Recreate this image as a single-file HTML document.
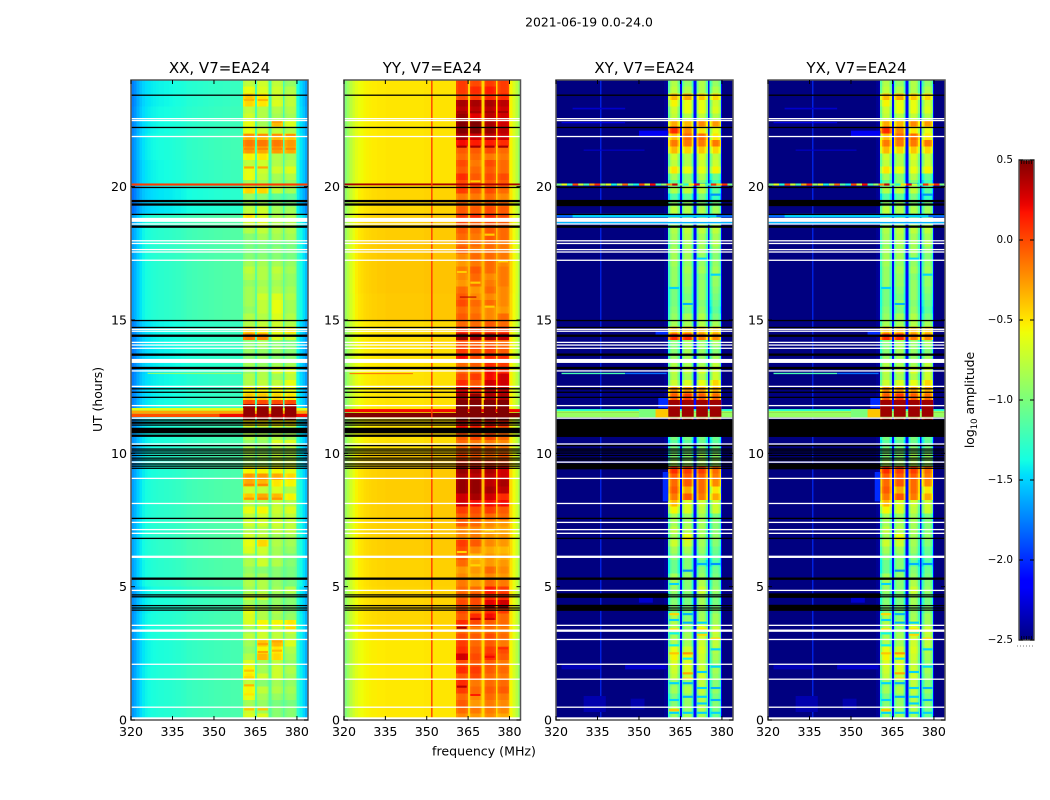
<!DOCTYPE html>
<html lang="en">
<head>
<meta charset="utf-8">
<title>2021-06-19 spectrogram</title>
<style>
html,body{margin:0;padding:0;background:#fff;width:1050px;height:800px;overflow:hidden}
#figure{position:relative;width:1050px;height:800px;background:#fff}
canvas{position:absolute;display:block;image-rendering:pixelated}
svg{position:absolute;left:0;top:0}
text{font-family:"DejaVu Sans","Liberation Sans",sans-serif;fill:#000}
</style>
</head>
<body>
<div id="figure">
<canvas id="heat-xx" width="256" height="96" style="left:131px;top:80px;width:177px;height:640px"></canvas>
<canvas id="heat-yy" width="256" height="96" style="left:344px;top:80px;width:176.5px;height:640px"></canvas>
<canvas id="heat-xy" width="256" height="96" style="left:556px;top:80px;width:177px;height:640px"></canvas>
<canvas id="heat-yx" width="256" height="96" style="left:768px;top:80px;width:177px;height:640px"></canvas>
<svg id="overlay" width="1050" height="800" viewBox="0 0 1050 800">
<defs><linearGradient id="jet-gradient" x1="0" y1="1" x2="0" y2="0"></linearGradient></defs>
<text x="589" y="26.5" font-size="12.4" text-anchor="middle">2021-06-19 0.0-24.0</text>
<text x="484" y="755.5" font-size="12.6" text-anchor="middle">frequency (MHz)</text>
<text x="0" y="0" font-size="12.4" text-anchor="middle" transform="translate(102,399.5) rotate(-90)">UT (hours)</text>
<text x="0" y="0" font-size="12.4" text-anchor="middle" transform="translate(974,400) rotate(-90)">log<tspan font-size="8.5" dy="3">10</tspan><tspan dy="-3"> amplitude</tspan></text>
</svg>
</div>
<script>
// Axis tick values
const xTicks = [320, 335, 350, 365, 380];
const yTicks = [0, 5, 10, 15, 20];
const colorTicks = [0.5, 0, -0.5, -1, -1.5, -2, -2.5];

// Receiver band limits (MHz)
const bandStarts = [360.6, 365.5, 370.7, 375.6];
const bandEnds = [364.8, 369.8, 374.9, 379.8];

// Band-edge rolloff across each band (log10 amplitude offset)
const shapeAuto = [-0.06, -0.02, 0, 0, 0, 0, -0.02, -0.06];
const shapeCross = [-0.35, -0.12, 0, 0, 0, 0, -0.12, -0.35];

// Background spectrum, one value per MHz from 320 to 383
const bgXX = [-1.65,-1.6,-1.52,-1.45,-1.4,-1.37,-1.35,-1.33,-1.32,-1.31,-1.3,-1.3,-1.29,-1.29,-1.28,-1.27,-1.26,-1.26,-1.25,-1.24,-1.22,-1.22,-1.21,-1.21,-1.2,-1.2,-1.19,-1.19,-1.18,-1.18,-1.17,-1.17,-1.17,-1.16,-1.16,-1.16,-1.15,-1.15,-1.15,-1.15,-1.15,-1.1,-1.1,-1.1,-1.1,-1.1,-1.1,-1.1,-1.1,-1.1,-1.1,-1.1,-1.1,-1.1,-1.1,-1.1,-1.1,-1.1,-1.1,-1.1,-1.28,-1.38,-1.46,-1.56];
const bgYY = [-0.92,-0.82,-0.72,-0.64,-0.58,-0.54,-0.52,-0.5,-0.49,-0.48,-0.47,-0.47,-0.46,-0.46,-0.46,-0.45,-0.45,-0.45,-0.45,-0.45,-0.45,-0.45,-0.45,-0.45,-0.45,-0.45,-0.45,-0.45,-0.45,-0.44,-0.44,-0.44,-0.44,-0.44,-0.44,-0.44,-0.44,-0.44,-0.44,-0.44,-0.44,-0.4,-0.4,-0.4,-0.4,-0.4,-0.4,-0.4,-0.4,-0.4,-0.4,-0.4,-0.4,-0.4,-0.4,-0.4,-0.4,-0.4,-0.4,-0.4,-0.5,-0.62,-0.72,-0.85];
const bgCross = [-2.5,-2.5,-2.5,-2.5,-2.5,-2.5,-2.5,-2.5,-2.5,-2.5,-2.5,-2.5,-2.5,-2.5,-2.5,-2.5,-2.5,-2.5,-2.5,-2.5,-2.5,-2.5,-2.5,-2.5,-2.5,-2.5,-2.5,-2.5,-2.5,-2.5,-2.5,-2.5,-2.5,-2.5,-2.5,-2.5,-2.5,-2.5,-2.5,-2.45,-2.4,-2.1,-2.1,-2.1,-2.1,-2.1,-2.1,-2.1,-2.1,-2.1,-2.1,-2.1,-2.1,-2.1,-2.1,-2.1,-2.1,-2.1,-2.1,-2.1,-2.5,-2.5,-2.5,-2.5];

// Background level change per hour of UT
const hourOffsetXX = [-0.03,-0.03,-0.05,-0.03,-0.05,0,0.02,0,0,-0.03,-0.05,-0.08,-0.1,-0.12,-0.1,0,0,0,0,-0.15,-0.08,-0.06,-0.08,-0.1];
const hourOffsetYY = [-0.06,-0.06,-0.06,0,0,0.01,0.03,0.03,0.03,0.03,-0.03,-0.04,-0.04,-0.04,-0.02,0.04,0.05,0.05,0.03,0,-0.05,-0.05,-0.05,-0.05];
const hourOffsetCross = [0,0,0,0,0,0,0,0,0,0,0,0,0,0,0,0,0,0,0,0,0,0,0,0];

// Band levels in quarter-hour rows, four bands per row, UT ascending
const bandsXX = [
[-.65,-.65,-.95,-.95],[-.7,-.85,-.95,-.95],[-.85,-.9,-1,-1],[-.6,-.85,-.9,-.9],
[-.55,-.75,-.8,-.85],[-.75,-.95,-.85,-.9],[-.5,-.7,-.7,-.85],[-.55,-.85,-.7,-.8],
[-.65,-.85,-.75,-.9],[-.8,-.35,-.45,-.85],[-.9,-.55,-.5,-.8],[-.85,-.4,-.35,-.65],
[-.75,-.7,-.75,-.8],[-.85,-.7,-.75,-.7],[-.65,-.55,-.55,-.5],[-.65,-.8,-.85,-.9],
[-.6,-.8,-.8,-.95],[-.85,-.9,-.9,-.95],[-.7,-.7,-.9,-.95],[-.85,-.8,-.85,-.8],
[-.8,-.8,-.9,-1],[-.85,-.85,-.95,-1],[-.9,-.95,-.95,-1],[-.8,-.7,-.8,-.95],
[-.85,-.75,-.85,-1],[-.65,-.7,-.85,-.9],[-.6,-.45,-.8,-.85],[-.7,-.75,-.85,-.85],
[-.8,-.8,-.75,-.75],[-.7,-.7,-.7,-.75],[-.75,-.7,-.75,-.75],[-.6,-.55,-.7,-.65],
[-.8,-.85,-.75,-.8],[-.4,-.3,-.35,-.55],[-.7,-.75,-.65,-.8],[-.3,-.35,-.5,-.55],
[-.25,-.25,-.3,-.45],[-.55,-.55,-.55,-.6],[-.85,-.85,-.7,-.7],[-.85,-.85,-.75,-.8],
[-.8,-.9,-.8,-.8],[-.9,-.9,-.65,-.65],[-.8,-.85,-.8,-.85],[-.8,-.85,-.8,-.9],
[-.5,-.5,-.5,-.5],[.45,.45,.45,.45],[.45,.45,.45,.45],[0,0,0,0],
[-.4,-.4,-.45,-.5],[-.55,-.55,-.55,-.6],[-.8,-.75,-.75,-.6],[-.8,-.8,-.85,-.75],
[-.9,-.8,-.65,-.65],[-.85,-.9,-.85,-.85],[-.95,-.9,-.95,-.95],[-.9,-.9,-.9,-.95],
[-.95,-.85,-.95,-1],[-.15,-.2,-.65,-.7],[-.4,-.5,-.6,-.5],[-.8,-.75,-.7,-.8],
[-.8,-.8,-.65,-.8],[-.9,-.75,-.6,-.85],[-.85,-.75,-.6,-.85],[-.85,-.7,-.65,-.8],
[-.85,-.8,-.8,-.85],[-.9,-.85,-.85,-.9],[-.8,-.8,-.8,-.9],[-.75,-.8,-.75,-.85],
[-.85,-.85,-.85,-.9],[-.95,-.95,-.95,-1],[-1,-1,-.95,-1],[-1,-1,-1,-1],
[-.95,-.85,-.85,-.85],[-.8,-.75,-.8,-.8],[-.7,-.65,-.8,-.8],[-.5,-.65,-.8,-.8],
[-.75,-.7,-.85,-.85],[-.85,-.85,-.95,-1],[-.9,-.95,-1.1,-1.1],[-.45,-.45,-.75,-.85],
[-.85,-.85,-.9,-.9],[-.6,-.75,-.85,-.8],[-.6,-.7,-.7,-.65],[-.75,-.7,-.8,-.8],
[-.55,-.5,-.8,-.85],[-.25,-.3,-.25,-.3],[-.15,-.15,-.15,-.25],[-.3,-.35,-.35,-.4],
[-.6,-.7,-.75,-.8],[-.6,-.85,-.35,-.65],[-.7,-.8,-.85,-.85],[-.75,-.8,-.8,-.8],
[-.45,-.5,-.65,-.75],[-.4,-.5,-.7,-.75],[-.6,-.65,-.7,-.8],[-.75,-.7,-.75,-.9]
];
const bandsYY = [
[-.2,-.25,-.2,-.3],[-.1,-.15,-.15,-.2],[-.05,-.25,-.15,-.2],[-.1,-.2,-.1,-.15],
[.05,-.1,-.05,-.05],[.1,-.15,-.1,-.1],[-.05,0,-.1,-.15],[.1,.05,-.05,-.1],
[0,-.05,-.05,-.15],[.3,0,.1,-.05],[.1,-.05,.05,0],[.05,-.1,-.05,-.15],
[0,-.05,0,-.1],[-.1,-.15,-.1,-.15],[.1,0,-.05,-.1],[-.05,.1,.2,-.1],
[0,-.1,.1,.05],[0,0,.25,.3],[-.05,0,.1,.1],[-.1,-.1,.15,.05],
[-.15,-.25,-.1,-.15],[-.2,-.3,-.2,-.25],[-.25,-.25,-.1,-.2],[-.1,-.3,-.25,-.25],
[-.05,-.35,-.25,-.3],[0,-.2,-.3,-.35],[.05,-.05,-.2,-.25],[-.2,-.15,-.25,-.25],
[-.2,-.2,-.25,-.3],[-.05,-.1,-.2,-.25],[-.05,-.05,-.1,-.1],[.05,0,.05,-.05],
[.3,.2,.2,.2],[.3,.4,.3,.1],[.45,.45,.4,.35],[.45,.45,.35,.4],
[.4,.35,.35,.3],[.45,.4,.4,.3],[.1,.1,.05,0],[0,-.05,-.1,-.05],
[-.1,-.05,-.1,-.15],[-.1,-.15,-.15,-.2],[-.05,0,0,-.1],[.2,.1,.1,-.05],
[.2,.2,.2,.15],[.5,.5,.5,.5],[.5,.5,.5,.5],[.45,.4,.35,.4],
[.45,.45,.4,.4],[.3,.1,.4,.35],[.1,-.05,.3,.3],[0,.05,.2,.3],
[-.1,-.1,.2,.1],[-.1,-.05,.1,.05],[.2,0,.1,.1],[.05,0,.05,-.05],
[0,-.05,-.05,-.1],[.45,.4,.4,.35],[.1,.05,.05,.05],[-.1,-.1,-.05,-.1],
[-.05,-.1,-.2,-.1],[-.1,-.15,-.2,-.25],[0,-.1,-.1,-.2],[-.05,-.2,-.2,-.2],
[-.1,-.25,-.1,-.2],[-.25,-.1,-.15,-.15],[-.2,-.1,-.2,-.15],[-.15,-.05,-.1,-.15],
[-.25,-.15,-.1,-.2],[-.2,-.1,-.1,-.15],[-.05,-.15,-.1,-.15],[-.1,-.1,-.1,-.15],
[-.1,-.15,-.05,-.1],[-.05,-.1,-.05,-.1],[0,-.05,0,-.05],[.05,.1,.1,0],
[-.05,-.05,0,-.05],[-.1,-.1,-.05,-.1],[-.15,-.15,-.1,-.2],[.05,-.05,0,-.1],
[0,0,-.05,-.05],[.1,-.05,0,0],[-.05,-.1,-.05,-.1],[0,-.15,0,-.1],
[-.1,-.1,-.15,-.15],[-.05,-.05,0,-.1],[.2,.15,.15,.1],[.4,.3,.35,.3],
[.5,.5,.45,.35],[.5,.5,.4,.3],[.45,.25,.35,.3],[.35,.35,.35,.3],
[.4,.4,.4,.35],[0,.05,.1,.1],[.05,.1,.15,.05],[.05,0,.05,.05]
];
const bandsCross = [
[-.9,-.85,-.85,-1.05],[-.75,-.9,-.8,-1],[-.95,-.9,-.8,-.95],[-1,-.9,-.8,-1],
[-.85,-.8,-.75,-.9],[-.9,-.9,-.75,-.95],[-.75,-.75,-.7,-.9],[-.7,-.65,-.7,-.85],
[-.65,-.65,-.75,-.9],[-.55,-.55,-.7,-.85],[-.6,-.7,-.65,-.8],[-.8,-.85,-.7,-.75],
[-.85,-.85,-.7,-.75],[-.8,-.9,-.6,-.7],[-.8,-.85,-.75,-.85],[-.8,-.95,-.85,-.85],
[-.95,-1,-.9,-.95],[-.95,-1,-.85,-1],[-1,-1,-.85,-1],[-.9,-.95,-.7,-.9],
[-.85,-.95,-.8,-.95],[-.85,-.9,-.9,-1],[-1.05,-.95,-.95,-1.05],[-1.05,-.95,-1.1,-1.15],
[-.95,-.95,-1,-1.1],[-.85,-.85,-.9,-1.05],[-.7,-.7,-.85,-.95],[-.85,-.6,-.85,-.9],
[-.75,-.8,-.85,-.95],[-.85,-.85,-.85,-.95],[-.85,-.9,-.85,-1],[-.55,-.65,-.75,-.7],
[-.35,-.65,-.7,-.7],[-.15,-.05,-.15,-.3],[-.05,-.3,-.1,-.5],[-.1,-.05,-.1,-.2],
[-.05,-.05,-.05,-.15],[.1,.05,.05,-.1],[-.8,-.85,-.8,-.85],[-.95,-.95,-.85,-.9],
[-1,-1,-.95,-1],[-1.1,-1.1,-1.05,-1.1],[-1,-1,-1,-1.05],[-.8,-.9,-.7,-.9],
[-.7,-.8,-.6,-.7],[.4,.4,.4,.4],[.4,.4,.4,.4],[.1,.1,.1,.1],
[-.05,.05,-.05,-.1],[-.2,-.25,-.25,-.3],[-.7,-.65,-.6,-.45],[-.8,-.85,-.8,-.7],
[-.75,-.75,-.65,-.7],[-.8,-.85,-.85,-.75],[-.9,-.85,-.9,-.85],[-.95,-.85,-.9,-.95],
[-.95,-.85,-.9,-.85],[.1,.1,-.15,-.2],[-.35,-.35,-.35,-.4],[-.85,-.85,-.8,-.85],
[-.9,-.85,-.8,-1],[-.95,-1,-.9,-1.1],[-1,-.9,-.95,-1.05],[-1,-1,-.9,-1],
[-1,-.95,-.9,-.95],[-.9,-.9,-.9,-.9],[-.9,-.9,-.95,-.9],[-.9,-.85,-.85,-.85],
[-.85,-.9,-.9,-.9],[-.85,-.85,-.9,-.95],[-.85,-.85,-.85,-.9],[-.9,-.85,-.85,-.8],
[-.85,-.8,-.85,-.85],[-.8,-.75,-.75,-.75],[-.9,-.9,-.85,-.8],[-.7,-.75,-.8,-.75],
[-.75,-.8,-.8,-.85],[-.9,-.9,-.95,-1],[-1.15,-1.1,-1,-1.25],[-.8,-.75,-.75,-1.1],
[-1.05,-.9,-.95,-1.2],[-.85,-.95,-.8,-1.05],[-.5,-.6,-.6,-.55],[-.75,-.8,-.7,-.7],
[-.7,-.8,-.65,-.75],[-.35,-.45,-.4,-.45],[-.15,-.15,-.15,-.15],[-.35,-.1,-.1,-.5],
[.1,-.2,-.5,-.6],[-.3,-.35,-.2,-.25],[-.75,-.8,-.75,-.8],[-.7,-.6,-.6,-.65],
[-.55,-.6,-.6,-.7],[-.35,-.3,-.4,-.45],[-.75,-.8,-.8,-.8],[-.8,-.9,-.8,-.9]
];

// Thin lines inside single bands: hour, band index, log10 amplitude
const bandLinesXX = [[20.72,0,-.3],[20.72,1,-.3],[21.42,0,-.2],[21.42,1,-.2],[21.42,2,-.2],[21.42,3,-.2],[21.93,0,-.2],[21.93,1,-.2],[21.93,2,-.2],[21.93,3,-.2],[22.44,2,-.25],[23.25,0,-.35],[23.25,1,-.35],[3.45,3,-.45],[2.95,2,-.3],[2.85,1,-.3],[2.6,2,-.35],[2.55,1,-.3],[1.85,0,-.4],[1.6,0,-.45],[1.3,0,-.35],[.96,0,-.5],[.4,0,-.4],[.4,1,-.4],[8.3,0,-.25],[8.3,1,-.2],[8.3,2,-.25],[8.82,0,-.2],[8.82,1,-.2]];
const bandLinesYY = [[1.25,0,.35],[3.46,0,.4],[3.79,1,.3],[3.79,2,.3],[4.25,2,.45],[4.25,3,.45],[2.69,3,.1],[2.37,2,.2],[.94,1,.15],[21.5,0,.4],[21.5,1,.4],[21.5,2,.4],[21.5,3,.4],[22.8,0,.4],[22.8,1,.4],[22.8,2,.4],[22.8,3,.4],[6.3,0,-.45],[5.8,1,-.45],[7.1,2,-.45],[16.4,1,-.42],[15.5,2,-.42],[17.2,3,-.42],[16.8,0,-.42],[18.2,2,-.42],[20.2,1,-.42]];
const bandLinesCross = [[3.97,1,-1.6],[3.75,0,-1.5],[3.65,1,-1.6],[3.65,2,-1.5],[3.25,0,-1.4],[3.25,2,-1.4],[2.8,0,-1.4],[2.65,3,-1.5],[2.3,1,-1.4],[2,3,-1.5],[1.8,2,-1.5],[1.38,0,-1.5],[1.38,1,-1.6],[1.2,2,-1.5],[1.2,3,-1.6],[.87,1,-1.6],[.87,2,-1.5],[.75,0,-1.5],[.75,3,-1.6],[.62,2,-1.5],[.27,0,-1.5],[.27,1,-1.5],[.27,2,-1.5],[.27,3,-1.5],[3.97,0,-.45],[3.4,0,-.5],[3.4,2,-.5],[3.2,2,-.45],[3.05,3,-.45],[2.5,0,-.4],[2.5,1,-.25],[1.75,1,-.3],[1.55,1,-.45],[.37,0,-.4],[6.8,1,-.45],[5.1,0,-1.5],[5.6,1,-1.7],[5.85,2,-1.6],[5.85,3,-1.7],[15.6,1,-1.6],[16.2,0,-1.5],[16.7,3,-1.5],[17.3,2,-1.5],[19.7,3,-1.7],[20.1,2,-1.6]];

// Narrow features: start hour, end hour, start MHz, end MHz, log10 amplitude
const stripesXX = [
[11.6,11.7,320,384,-.62],[11.48,11.6,320,384,-.3],[11.36,11.48,320,384,-.02],[11.36,11.48,352,384,.2],
[20.04,20.12,320,384,.05],[12.98,13.02,326,360,-.9],
[11.37,11.85,360.6,364.8,.45],[11.37,11.85,365.5,369.8,.45],[11.37,11.85,370.7,374.9,.45],[11.37,11.85,375.6,379.8,.45]
];
const stripesYY = [
[11.55,11.66,320,384,.2],[11.35,11.52,320,384,.5],[20.05,20.12,320,384,.4],[12.97,13.01,322,345,-.15],
[.1,24,351.6,352.1,.05],[15.84,15.88,362,368,.35],
[11.37,12,360.6,364.8,.5],[11.37,12,365.5,369.8,.5],[11.37,12,370.7,374.9,.5],[11.37,12,375.6,379.8,.5]
];
const stripesCross = [
[.1,24,336,336.4,-2],[11.56,11.66,320,384,-1.3],[11.52,11.58,320,384,-.8],[11.35,11.52,320,384,-.9],[11.35,11.66,350,356,-1],[11.35,11.66,356,360.6,-.4],
[18.85,18.98,320,384,-1.8],[18.62,18.68,320,384,-1.6],[18.85,18.98,326,378,-1.5],
[12.97,13.02,322,345,-1.2],[12.97,13.02,345,360,-1.8],
[1.9,2.1,322,336,-2.35],[1.9,2.1,345,360,-2.3],[.3,.9,330,338,-2.38],[.4,.8,347,352,-2.38],[4.4,4.7,350,355,-2.3],
[8.2,9.3,358.6,360.6,-2],[14.4,14.6,356,360.6,-2],[11.7,12.1,357,360.6,-2],[21.9,22.1,350,360.6,-2.2],
[22.38,22.42,322,345,-2.2],[22.9,22.96,326,345,-2.3],[21.35,21.39,330,352,-2.3],
[11.37,12,360.6,364.8,.42],[11.37,12,365.5,369.8,.42],[11.37,12,370.7,374.9,.42],[11.37,12,375.6,379.8,.42]
];

// Strongly varying interference row seen in the cross-hand panels at 20.08 UT
const noiseRowValues = [-1,-.6,-1.3,0,-.7,-1.2,-.3,.1,-.9,-.6,-1.4,-.8,-.1,-1.1,-1.4,0,-.7,.2,-1.2,-.9,-.2,.3,-1,-1.3,-.5,.2,-.7,-1.2,.1,-.4,.1,-1];

// Flagged rows, in hours of UT
const blackThin = [23.43,22.22,19.97,18.96,14.98,14.72,12.42,12.29,12.1,11.25,11.06,10.29,10.16,10.09,10.01,9.92,9.82,9.75,9.6,9.52,9.44,7.56,6.81,4.69,4.62,4.29,4.2,4.12];
const blackThick = [19.46,19.33,18.5,14.41,13.7,13.2,11.15,10.66,5.3];
const whiteThin = [22.55,22.48,21.88,18.6,17.97,17.87,17.64,17.55,17.24,14.65,14.58,14.16,14.06,13.94,13.09,12.51,11.79,11.32,10.35,9.67,9.06,8.12,7.41,7.14,7,4.86,3.55,3.02,2.09,1.53,.48];
const whiteThick = [6.12,3.35];
const blackBlocks = [[10.75,10.96]];
const whiteBlocks = [[18.68,18.83],[13.39,13.54],[0,.1]];
const crossBlackBlocks = [[10.62,11.25]];
const crossSideBlocks = [[19.27,19.5],[9.4,9.6],[4.1,4.32],[4.58,4.75]];

// Panel definitions
const panelNames = ['xx', 'yy', 'xy', 'yx'];
const panelTitles = ['XX, V7=EA24', 'YY, V7=EA24', 'XY, V7=EA24', 'YX, V7=EA24'];
const panelLeft = [131, 344, 556, 768];
const panelWidth = [177, 176.5, 177, 177];
const panelBg = [bgXX, bgYY, bgCross, bgCross];
const panelBands = [bandsXX, bandsYY, bandsCross, bandsCross];
const panelShape = [shapeAuto, shapeAuto, shapeCross, shapeCross];
const panelHour = [hourOffsetXX, hourOffsetYY, hourOffsetCross, hourOffsetCross];
const panelStripes = [stripesXX, stripesYY, stripesCross, stripesCross];
const panelLines = [bandLinesXX, bandLinesYY, bandLinesCross, bandLinesCross];

const plotTop = 80, plotBottom = 720, freqMin = 320, freqMax = 384, hourMax = 24, levelMin = -2.5, levelMax = 0.5;
const cbLeft = 1019, cbRight = 1034, cbTop = 160, cbBottom = 640;
const SVG_NS = 'http://www.w3.org/2000/svg';
const svg = document.getElementById('overlay');

function yScale(hour) { return plotBottom - (hour / hourMax) * (plotBottom - plotTop); }
function ramp(n, pts) {
  for (let i = 1; i < pts.length; i++) {
    if (n <= pts[i][0]) {
      const a = pts[i - 1], b = pts[i];
      return a[1] + (b[1] - a[1]) * (n - a[0]) / (b[0] - a[0]);
    }
  }
  return pts[pts.length - 1][1];
}
function jet(level) {
  const n = Math.max(0, Math.min(1, (level - levelMin) / (levelMax - levelMin)));
  const r = ramp(n, [[0, 0], [.35, 0], [.66, 1], [.89, 1], [1, .5]]);
  const g = ramp(n, [[0, 0], [.125, 0], [.375, 1], [.64, 1], [.91, 0], [1, 0]]);
  const b = ramp(n, [[0, .5], [.11, 1], [.34, 1], [.65, 0], [1, 0]]);
  return [Math.round(r * 255), Math.round(g * 255), Math.round(b * 255)];
}
function jetCss(level) { const c = jet(level); return 'rgb(' + c[0] + ',' + c[1] + ',' + c[2] + ')'; }
function shape(tag, attrs, parent) {
  const el = document.createElementNS(SVG_NS, tag);
  for (const k in attrs) el.setAttribute(k, attrs[k]);
  (parent || svg).appendChild(el);
  return el;
}

function cellLevel(p, row, col) {
  const f = freqMin + (col + .5) * (freqMax - freqMin) / 256;
  const bg = panelBg[p][Math.min(63, Math.floor(f - freqMin))];
  const offset = panelHour[p][Math.floor(row / 4)];
  for (let k = 0; k < bandStarts.length; k++) {
    if (f >= bandStarts[k] && f < bandEnds[k]) {
      const s = panelShape[p];
      const idx = Math.min(s.length - 1, Math.floor((f - bandStarts[k]) / (bandEnds[k] - bandStarts[k]) * s.length));
      return panelBands[p][row][k] + s[idx];
    }
  }
  return bg + offset;
}

function drawHeat(p) {
  const ctx = document.getElementById('heat-' + panelNames[p]).getContext('2d');
  const img = ctx.createImageData(256, 96);
  for (let row = 0; row < 96; row++) {
    for (let col = 0; col < 256; col++) {
      const c = jet(cellLevel(p, row, col));
      const i = ((95 - row) * 256 + col) * 4;
      img.data[i] = c[0]; img.data[i + 1] = c[1]; img.data[i + 2] = c[2]; img.data[i + 3] = 255;
    }
  }
  ctx.putImageData(img, 0, 0);
}

function drawPanel(p) {
  const left = panelLeft[p], width = panelWidth[p], right = left + width;
  const xScale = f => left + (f - freqMin) / (freqMax - freqMin) * width;
  const g = shape('g', {});
  
  

  panelStripes[p].forEach(s => {
    const r = shape('rect', { x: xScale(s[2]), y: yScale(s[1]), width: xScale(s[3]) - xScale(s[2]), height: yScale(s[0]) - yScale(s[1]), fill: jetCss(s[4]) }, g);
    
    
  });

  panelLines[p].forEach(s => {
    const f0 = bandStarts[s[1]], f1 = bandEnds[s[1]];
    const r = shape('rect', { x: xScale(f0 + .3), y: yScale(s[0] + .04), width: xScale(f1 - .3) - xScale(f0 + .3), height: yScale(s[0] - .04) - yScale(s[0] + .04), fill: jetCss(s[2]) }, g);
    
    
  });

  if (p >= 2) {
    noiseRowValues.forEach((v, i) => {
      const step = (freqMax - freqMin) / noiseRowValues.length;
      const f0 = freqMin + i * step;
      const r = shape('rect', { x: xScale(f0), y: yScale(20.12), width: xScale(f0 + step) - xScale(f0), height: yScale(20.04) - yScale(20.12), fill: jetCss(v) }, g);
      
      
    });
    crossBlackBlocks.forEach(b => {
      const r = shape('rect', { x: left, y: yScale(b[1]), width: width, height: yScale(b[0]) - yScale(b[1]), fill: '#000' }, g);
      
      
    });
    crossSideBlocks.forEach(b => {
      const r = shape('rect', { x: left, y: yScale(b[1]), width: xScale(360.6) - left, height: yScale(b[0]) - yScale(b[1]), fill: '#000' }, g);
      
      
    });
  }

  blackBlocks.forEach(b => {
    const r = shape('rect', { x: left, y: yScale(b[1]), width: width, height: yScale(b[0]) - yScale(b[1]), fill: '#000' }, g);
    
    
  });
  whiteBlocks.forEach(b => {
    const r = shape('rect', { x: left, y: yScale(b[1]), width: width, height: yScale(b[0]) - yScale(b[1]), fill: '#fff' }, g);
    
    
  });
  function line(hour, thick, color) {
    const h = thick ? 2.3 : 1.3;
    const r = shape('rect', { x: left, y: yScale(hour) - h / 2, width: width, height: h, fill: color }, g);
    
    
  }
  whiteThin.forEach(t => line(t, false, '#fff'));
  whiteThick.forEach(t => line(t, true, '#fff'));
  blackThin.forEach(t => line(t, false, '#000'));
  blackThick.forEach(t => line(t, true, '#000'));

  const frame = shape('rect', { x: left, y: plotTop, width: width, height: plotBottom - plotTop, fill: 'none', stroke: '#555', 'stroke-width': 1.5 }, g);
  
  

  xTicks.forEach(v => {
    const x = xScale(v);
    const t1 = shape('line', { x1: x, x2: x, y1: plotBottom, y2: plotBottom - 4, stroke: '#000', 'stroke-width': 1 }, g);
    
    
    const t2 = shape('line', { x1: x, x2: x, y1: plotTop, y2: plotTop + 4, stroke: '#000', 'stroke-width': 1 }, g);
    
    
    const label = shape('text', { x: x, y: 736, 'font-size': 12.6, 'text-anchor': 'middle' }, g);
    label.textContent = String(v);
    
    
  });
  yTicks.forEach(v => {
    const y = yScale(v);
    const t1 = shape('line', { x1: left, x2: left + 4, y1: y, y2: y, stroke: '#000', 'stroke-width': 1 }, g);
    
    
    const t2 = shape('line', { x1: right, x2: right - 4, y1: y, y2: y, stroke: '#000', 'stroke-width': 1 }, g);
    
    
    const label = shape('text', { x: left - 4, y: y + 4.5, 'font-size': 12.6, 'text-anchor': 'end' }, g);
    label.textContent = String(v);
    
    
  });
  const title = shape('text', { x: left + width / 2, y: 73, 'font-size': 15, 'text-anchor': 'middle' }, g);
  title.textContent = panelTitles[p];
  
  
}

function drawColorbar() {
  const grad = document.getElementById('jet-gradient');
  for (let i = 0; i <= 64; i++) {
    const n = i / 64;
    const stop = shape('stop', { offset: n, 'stop-color': jetCss(levelMin + n * (levelMax - levelMin)) }, grad);
    
    
  }
  const g = shape('g', {});
  
  
  const bar = shape('rect', { x: cbLeft, y: cbTop, width: cbRight - cbLeft, height: cbBottom - cbTop, fill: 'url(#jet-gradient)', stroke: '#555', 'stroke-width': 1.5 }, g);
  
  
  const cbScale = v => cbBottom - (v - levelMin) / (levelMax - levelMin) * (cbBottom - cbTop);
  colorTicks.forEach(v => {
    const y = cbScale(v);
    const a = shape('line', { x1: cbLeft, x2: cbLeft + 4, y1: y, y2: y, stroke: '#000', 'stroke-width': 1 }, g);
    
    
    const b = shape('line', { x1: cbRight, x2: cbRight - 4, y1: y, y2: y, stroke: '#000', 'stroke-width': 1 }, g);
    
    
    const label = shape('text', { x: 1013, y: y + 3, 'font-size': 10.4, 'text-anchor': 'end' }, g);
    label.textContent = (v < 0 ? '\u2212' : '') + Math.abs(v).toFixed(1);
    
    
  });
  for (let i = 1; i <= 5; i++) {
    const x = cbLeft + i * (cbRight - cbLeft) / 6;
    const top = shape('line', { x1: x, x2: x, y1: cbTop, y2: cbTop + 4, stroke: '#000', 'stroke-width': .7 }, g);
    
    
    const bottom = shape('line', { x1: x, x2: x, y1: cbBottom, y2: cbBottom - 4, stroke: '#000', 'stroke-width': .7 }, g);
    
    
  }
  const dots = shape('line', { x1: 1017, x2: 1034, y1: 646, y2: 646, stroke: '#777', 'stroke-width': 1, 'stroke-dasharray': '1 2' }, g);
  
  
}

panelNames.forEach((n, p) => { drawHeat(p); drawPanel(p); });
drawColorbar();
</script>
</body>
</html>
